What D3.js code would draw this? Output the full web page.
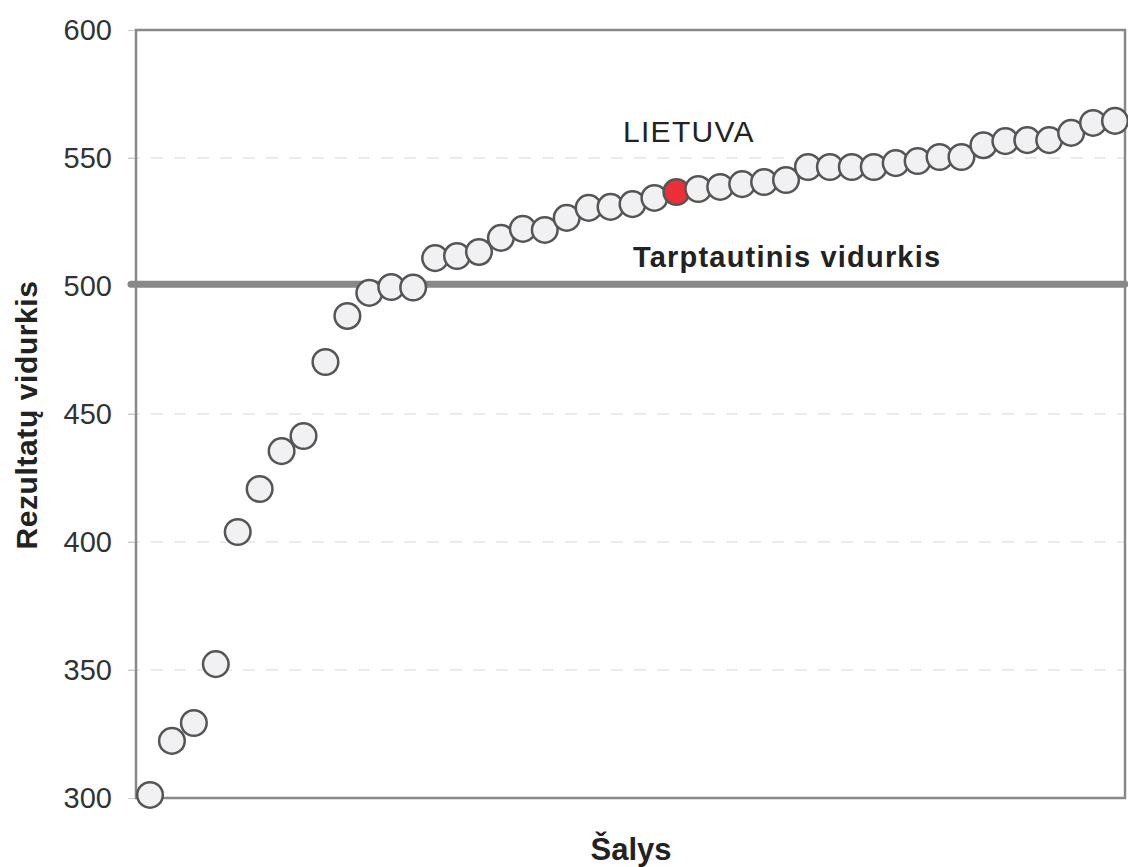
<!DOCTYPE html>
<html><head><meta charset="utf-8">
<script src="https://cdn.jsdelivr.net/npm/d3@7"></script>
<style>body{margin:0;background:#fff}svg{display:block;font-family:"Liberation Sans",Arial,sans-serif}</style>
</head><body><svg id="c" width="1128" height="867"></svg>
<script>
const values = [301.2,322.3,329.3,352.3,403.9,420.7,435.5,441.4,470.3,488.3,497.3,499.6,499.4,510.9,511.7,513.3,518.8,522.3,521.9,526.6,530.5,530.9,532.0,534.4,536.7,537.9,538.7,539.8,540.6,541.4,546.5,546.5,546.5,546.5,548.0,548.8,550.4,550.4,555.0,556.6,557.0,557.0,559.8,563.7,564.5];
const highlightIndex = 24;
const yTicks = [300,350,400,450,500,550,600];
const refValue = 500.7;
const labels = {highlight:"LIETUVA", ref:"Tarptautinis vidurkis", y:"Rezultatų vidurkis", x:"Šalys"};

const svg = d3.select("#c");
const L=136,R=1125,T=30,B=798;
const y = d3.scaleLinear().domain([300,600]).range([B,T]);
const x = d3.scaleLinear().domain([0,values.length-1]).range([150,1115]);

// gridlines
svg.append("g").selectAll("line").data(yTicks.filter(d=>d>300&&d<600)).join("line")
  .attr("x1",128).attr("x2",R).attr("y1",d=>y(d)).attr("y2",d=>y(d))
  .attr("stroke","#d8d8d8").attr("stroke-width",1.2).attr("stroke-dasharray","12,11");

// axis
const ax = svg.append("g").attr("transform",`translate(${L},0)`)
  .call(d3.axisLeft(y).tickValues(yTicks).tickSize(8).tickPadding(16));
ax.select(".domain").remove();
ax.selectAll(".tick line").attr("stroke","#ccc");
ax.selectAll(".tick text").attr("font-size",29).attr("fill","#333").attr("dy","0.34em")
  .attr("font-family","Liberation Sans, Arial, sans-serif");

// frame
svg.append("rect").attr("x",L).attr("y",T).attr("width",R-L).attr("height",B-T)
  .attr("fill","none").attr("stroke","#888").attr("stroke-width",2.5);

// reference line
svg.append("line").attr("x1",131).attr("x2",R).attr("y1",y(refValue)).attr("y2",y(refValue))
  .attr("stroke","#888").attr("stroke-width",7).attr("stroke-linecap","round");

// points
svg.append("g").selectAll("circle").data(values).join("circle")
  .attr("cx",(d,i)=>x(i)).attr("cy",d=>y(d)).attr("r",12.8)
  .attr("fill",(d,i)=>i===highlightIndex?"#ee2e36":"#f1f1f3")
  .attr("stroke","#555").attr("stroke-width",2.5);

// texts
svg.append("text").attr("x",623).attr("y",142)
  .attr("font-size",30).attr("fill","#222").attr("letter-spacing",1.3).text(labels.highlight);
svg.append("text").attr("x",633).attr("y",267)
  .attr("font-size",29).attr("font-weight","bold").attr("fill","#222").attr("letter-spacing",1.2).text(labels.ref);
svg.append("text").attr("transform","translate(37,415) rotate(-90)").attr("text-anchor","middle")
  .attr("font-size",30).attr("font-weight","bold").attr("fill","#222").attr("letter-spacing",0.6).text(labels.y);
svg.append("text").attr("x",631).attr("y",860).attr("text-anchor","middle")
  .attr("font-size",31).attr("font-weight","bold").attr("fill","#222").text(labels.x);
</script></body></html>
